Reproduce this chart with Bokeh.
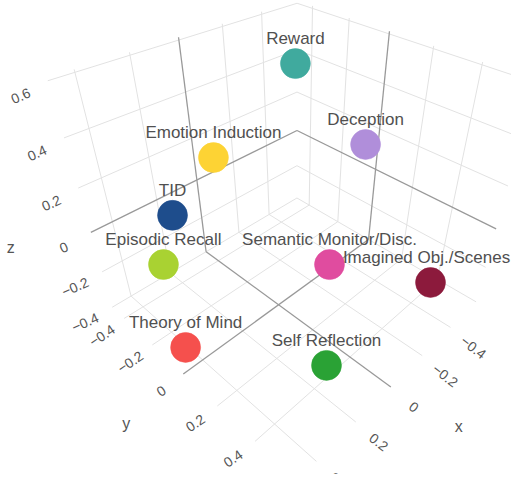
import numpy as np
from bokeh.plotting import figure
from bokeh.models import ColumnDataSource
from bokeh.embed import file_html
from bokeh.resources import INLINE
from bokeh.core.properties import value

# ---------------- data ----------------
tasks = ["Reward", "Deception", "Emotion Induction", "TID", "Episodic Recall",
         "Semantic Monitor/Disc.", "Imagined Obj./Scenes", "Theory of Mind", "Self Reflection"]
x_vals = [-0.364, -0.252, 0.162, 0.315, 0.357, 0.022, -0.356, 0.449, 0.232]
y_vals = [-0.263, 0.197, -0.128, -0.190, -0.241, 0.292, 0.494, -0.022, 0.480]
z_vals = [0.474, 0.351, 0.338, 0.144, -0.091, 0.026, -0.187, -0.303, -0.166]
colors = ["#40AA9E", "#B08EDA", "#FDD334", "#1E4D8C", "#A9D232",
          "#E04C9F", "#8C1A3C", "#F5504D", "#2AA235"]

x_ticks = [-0.4, -0.2, 0.0, 0.2, 0.4]
y_ticks = [-0.4, -0.2, 0.0, 0.2, 0.4]
z_ticks = [-0.4, -0.2, 0.0, 0.2, 0.4, 0.6]
x_range3 = (-0.6, 0.49)
y_range3 = (-0.49, 0.6)
z_range3 = (-0.4, 0.61)

# label nudges (style): keep the right-most label inside the canvas
label_dx = [0, 0, 0, 0, 0, 0, -4, 0, 0]

# ---------------- camera (perspective projection, pixel space) ----------------
CAM = np.array([[-267.79, 114.28, -86.485, 284.04],
                [54.988, 59.411, -273.81, 238.29],
                [-0.2681, -0.23622, -0.28437, 1.0]])


def project(xs, ys, zs):
    X = np.c_[np.asarray(xs, float), np.asarray(ys, float), np.asarray(zs, float), np.ones(len(xs))]
    u = X @ CAM.T
    return u[:, 0] / u[:, 2], u[:, 1] / u[:, 2]


W, H = 511, 474
p = figure(width=W, height=H, x_range=(8, 8 + W), y_range=(8 + H, 8),
           output_backend="svg", toolbar_location=None, min_border=0)
p.axis.visible = False
p.grid.visible = False
p.outline_line_color = None
p.background_fill_color = "white"
p.border_fill_color = "white"

x0, x1 = x_range3
y0, y1 = y_range3
z0, z1 = z_range3

# gridlines on the three back planes
grid, zero = [], []
for z in z_ticks:
    (zero if z == 0 else grid).append(((x0, y0, z), (x1, y0, z)))
    (zero if z == 0 else grid).append(((x0, y0, z), (x0, y1, z)))
for x in x_ticks:
    (zero if x == 0 else grid).append(((x, y0, z0), (x, y0, z1)))
    (zero if x == 0 else grid).append(((x, y0, z0), (x, y1, z0)))
for y in y_ticks:
    (zero if y == 0 else grid).append(((x0, y, z0), (x0, y, z1)))
    (zero if y == 0 else grid).append(((x0, y, z0), (x1, y, z0)))


def seg_xy(segs):
    xs, ys = [], []
    for a, b in segs:
        px, py = project([a[0], b[0]], [a[1], b[1]], [a[2], b[2]])
        xs.append(list(px)); ys.append(list(py))
    return xs, ys


gx, gy = seg_xy(grid)
p.multi_line(gx, gy, line_color="#e2e2e2", line_width=1)
zx, zy = seg_xy(zero)
p.multi_line(zx, zy, line_color="#999999", line_width=1.3)

# tick labels
TICK_FONT = value("Liberation Sans")


def fmt(v):
    s = ("%g" % abs(v))
    return ("\u2212" + s) if v < 0 else s


def tick_labels(xs, ys, zs, labels, dx, dy, ang):
    px, py = project(xs, ys, zs)
    src = ColumnDataSource(dict(x=px + dx, y=py + dy, t=labels))
    p.text("x", "y", text="t", source=src, text_font=TICK_FONT, text_font_size="14px",
           text_color="#555555", text_align="center", text_baseline="middle", angle=ang)


tick_labels(x_ticks, [y1] * len(x_ticks), [z0] * len(x_ticks), [fmt(v) for v in x_ticks], 23, 20, np.radians(-38))
tick_labels([x1] * len(y_ticks), y_ticks, [z0] * len(y_ticks), [fmt(v) for v in y_ticks], -22, 17, np.radians(34))
tick_labels([x1] * len(z_ticks), [y0] * len(z_ticks), z_ticks, [fmt(v) for v in z_ticks], -27, 15, np.radians(24))

# axis titles
for name, pt, off in [("x", (0, y1, z0), (68, 39)), ("y", (x1, 0, z0), (-57, 50)), ("z", (x1, y0, 0), (-80, 15))]:
    px, py = project([pt[0]], [pt[1]], [pt[2]])
    p.text([px[0] + off[0]], [py[0] + off[1]], text=[name], text_font=TICK_FONT, text_font_size="16px",
           text_color="#555555", text_align="center", text_baseline="middle")

# markers and their labels
mx, my = project(x_vals, y_vals, z_vals)
src = ColumnDataSource(dict(x=mx, y=my, c=colors, t=tasks, dx=label_dx))
p.scatter("x", "y", source=src, size=30, fill_color="c", line_color="c", line_width=0.5)
p.text("x", "y", text="t", source=src, text_font=value("Liberation Sans"), text_font_size="17px",
       text_color="#505050", text_align="center", text_baseline="middle", x_offset="dx", y_offset=-25)

open("out.html", "w").write(file_html(p, INLINE))
